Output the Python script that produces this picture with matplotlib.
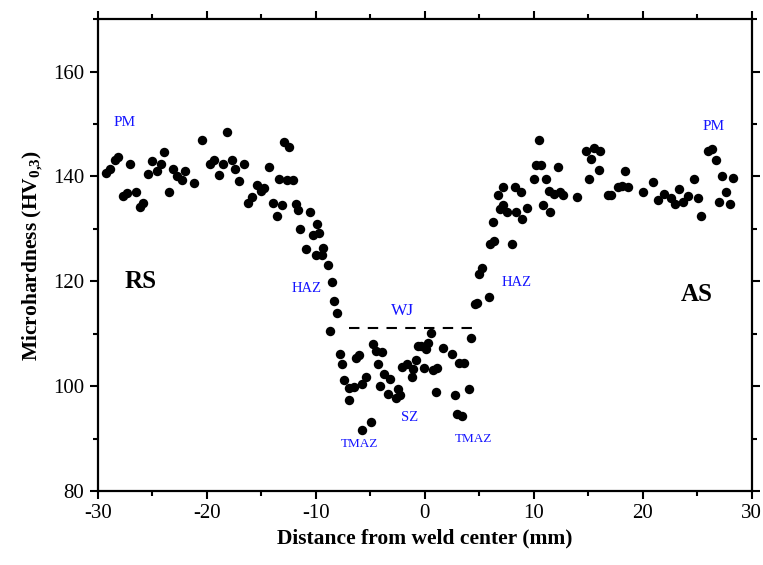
import matplotlib
matplotlib.use("Agg")
import matplotlib.pyplot as plt
from matplotlib.ticker import MultipleLocator

plt.rcParams['font.family'] = ['Liberation Serif', 'DejaVu Serif']
plt.rcParams['mathtext.fontset'] = 'custom'
plt.rcParams['mathtext.rm'] = 'Liberation Serif'
plt.rcParams['mathtext.bf'] = 'Liberation Serif:bold'
plt.rcParams['axes.unicode_minus'] = False

# distance from weld center (mm) and microhardness (HV0.3)
distance = [
    -29.2, -28.9, -28.4, -28.1, -27.7, -27.3, -27.0, -26.5, -26.1, -25.8,
    -25.4, -25.0, -24.6, -24.2, -23.9, -23.5, -23.1, -22.7, -22.3, -22.0,
    -21.2, -20.4, -19.7, -19.3, -18.9, -18.5, -18.1, -17.7, -17.4, -17.0,
    -16.6, -16.2, -15.8, -15.4, -15.0, -14.7, -14.3, -13.9, -13.5, -13.4,
    -13.1, -12.9, -12.6, -12.4, -12.1, -11.8, -11.6, -11.4, -10.9, -10.5,
    -10.2, -10.0, -9.9, -9.7, -9.3, -9.4, -8.9, -8.5, -8.3, -8.0,
    -8.7,
    -7.8, -7.6, -7.4, -6.9, -6.9, -6.5, -6.3, -6.0, -5.7, -5.4,
    -5.7, -4.9, -4.7, -4.5, -3.9, -4.3, -3.7, -4.1, -3.2, -3.4,
    -2.4, -2.6, -2.3, -2.1, -1.6, -1.2, -1.1, -0.8, -0.1, -0.6,
    -0.3, 0.15, 0.3, 0.6, 0.8, 1.1, 1.0, 1.7, 2.5, 2.8,
    3.2, 3.6, 3.0, 3.4, 4.1, 4.3,
    4.6, 4.8, 5.9, 5.0, 5.3, 6.0, 6.4, 8.0, 6.3, 6.9,
    7.2, 7.6, 8.4, 8.9, 9.4, 6.7, 7.2, 8.3, 8.8, 10.5,
    10.2, 10.7, 10.0, 11.1, 10.9, 11.5, 11.4, 11.9, 12.4, 12.7,
    12.2, 14.0, 14.8, 15.5, 16.1, 15.3, 16.0, 15.1, 16.8, 17.1,
    17.7, 18.1, 18.7, 18.4, 20.0, 21.0, 21.4, 22.0, 22.6, 23.0,
    23.3, 23.7, 24.2, 24.7, 25.1, 25.4, 26.0, 26.4, 26.7, 27.3,
    28.3, 27.7, 27.0, 28.0,
]
hardness = [
    140.6, 141.5, 143.2, 143.8, 136.2, 136.8, 142.3, 137.0, 134.2, 134.9,
    140.5, 142.9, 141.0, 142.3, 144.6, 137.0, 141.5, 140.0, 139.4, 141.0,
    138.8, 146.9, 142.3, 143.2, 140.2, 142.3, 148.4, 143.2, 141.5, 139.2,
    142.3, 134.9, 136.0, 138.3, 137.3, 137.8, 141.9, 134.9, 132.4, 139.6,
    134.5, 146.6, 139.4, 145.7, 139.4, 134.7, 133.6, 130.0, 126.2, 133.2,
    128.8, 125.0, 131.0, 129.3, 126.4, 125.1, 123.2, 119.9, 116.3, 114.0,
    110.5,
    106.2, 104.3, 101.1, 99.7, 97.3, 99.8, 105.4, 106.0, 100.4, 101.8,
    91.6, 93.1, 108.1, 106.8, 106.5, 104.3, 102.3, 100.0, 101.3, 98.5,
    99.5, 97.8, 98.3, 103.6, 104.3, 101.8, 103.2, 104.9, 103.5, 107.6,
    107.7, 107.0, 108.3, 110.1, 103.1, 103.5, 98.9, 107.3, 106.1, 98.4,
    104.5, 104.5, 94.6, 94.4, 99.5, 109.1,
    115.6, 115.9, 117.1, 121.3, 122.5, 127.1, 127.6, 127.1, 131.3, 133.8,
    134.6, 133.2, 133.2, 131.9, 134.0, 136.5, 137.9, 137.9, 137.1, 147.0,
    142.2, 142.2, 139.6, 139.6, 134.6, 133.2, 137.3, 136.7, 137.1, 136.5,
    141.9, 136.0, 144.9, 145.5, 144.9, 143.4, 141.3, 139.6, 136.5, 136.5,
    137.9, 138.1, 137.9, 141.0, 137.0, 139.0, 135.6, 136.7, 135.8, 134.8,
    137.7, 135.1, 136.2, 139.6, 135.8, 132.4, 144.9, 145.3, 143.2, 140.0,
    139.8, 137.0, 135.2, 134.8,
]

# zone annotations: (text, x, y, size)
zone_labels = [
    ("PM", -27.5, 150.3, 11),
    ("PM", 26.5, 149.5, 11),
    ("HAZ", -10.8, 118.6, 10.5),
    ("HAZ", 8.4, 119.8, 10.5),
    ("WJ", -2.0, 114.4, 12.5),
    ("SZ", -1.4, 94.0, 10.5),
    ("TMAZ", -6.0, 89.0, 9.5),
    ("TMAZ", 4.5, 90.0, 9.5),
]
side_labels = [("RS", -26.1, 120.0), ("AS", 25.0, 117.5)]
wj_limit = 111.0
wj_span = [-6.9, 4.4]

fig = plt.figure(figsize=(7.63, 5.65), dpi=100)
ax = fig.add_axes([0.128, 0.131, 0.857, 0.835])

ax.plot(distance, hardness, 'o', color='black', markersize=6.8, markeredgewidth=0)
ax.plot(wj_span, [wj_limit, wj_limit], '--', color='black', linewidth=1.5, dashes=(5, 4))

for txt, x, y, size in zone_labels:
    ax.text(x, y, txt, color='#1414ff', fontsize=size, ha='center', va='center')
for txt, x, y in side_labels:
    ax.text(x, y, txt, color='black', fontsize=18, fontweight='bold', ha='center', va='center')

ax.set_xlim(-30, 30)
ax.set_ylim(80, 170)
ax.xaxis.set_major_locator(MultipleLocator(10))
ax.xaxis.set_minor_locator(MultipleLocator(5))
ax.yaxis.set_minor_locator(MultipleLocator(10))
ax.set_yticks([80, 100, 120, 140, 160])

ax.tick_params(which='both', direction='out', top=True, right=True, width=1.5, labelsize=15)
ax.tick_params(which='major', length=6)
ax.tick_params(which='minor', length=3.5)
for sp in ax.spines.values():
    sp.set_linewidth(1.6)

ax.set_xlabel("Distance from weld center (mm)", fontsize=15.5, fontweight='bold', labelpad=4)
ax.set_ylabel(r"Microhardness (HV$_{\mathbf{0{,}3}}$)", fontsize=15.5, fontweight='bold', labelpad=6)

fig.savefig("out.png", dpi=100)
